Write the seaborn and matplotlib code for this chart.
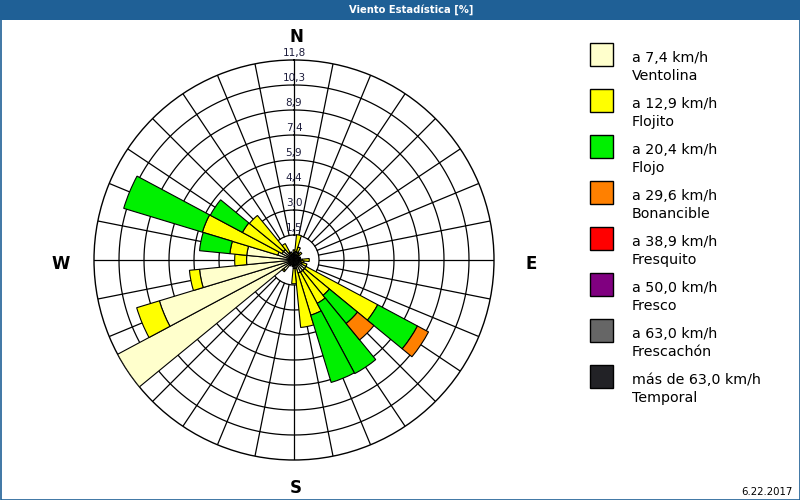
import numpy as np
import pandas as pd
import seaborn as sns
import matplotlib
matplotlib.use("Agg")
import matplotlib.pyplot as plt
from matplotlib.patches import Rectangle

# ---------------- data ----------------
directions = [0, 11.25, 22.5, 33.75, 45, 56.25, 67.5, 78.75,
              90, 101.25, 112.5, 123.75, 135, 146.25, 157.5, 168.75,
              180, 191.25, 202.5, 213.75, 225, 236.25, 247.5, 258.75,
              270, 281.25, 292.5, 303.75, 315, 326.25, 337.5, 348.75]

ventolina = [0.4, 0.5, 0.5, 0.3, 0.4, 0.3, 0.3, 0.3,
             0.5, 0.4, 0.5, 0.8, 0.8, 0.8, 0.8, 0.5,
             0.5, 0.3, 0.3, 0.4, 0.8, 11.8, 8.3, 5.6,
             2.8, 2.8, 1.0, 0.8, 0.8, 0.5, 0.3, 0.3]
flojito = [0.2, 1.0, 0.3, 0.2, 0.2, 0.0, 0.1, 0.1,
           0.4, 0.2, 0.3, 4.8, 1.9, 2.1, 2.6, 3.5,
           0.9, 0.1, 0.0, 0.0, 0.1, 0.0, 1.4, 0.6,
           0.7, 1.0, 4.65, 2.65, 2.6, 0.6, 0.2, 0.1]
flojo = [0, 0, 0, 0, 0, 0, 0, 0,
         0, 0, 0, 2.66, 2.15, 4.7, 4.15, 0,
         0, 0, 0, 0, 0, 0, 0, 0,
         0, 1.8, 4.85, 2.15, 0, 0, 0, 0]
bonancible = [0, 0, 0, 0, 0, 0, 0, 0,
              0, 0, 0, 0.74, 1.25, 0, 0, 0,
              0, 0, 0, 0, 0, 0, 0, 0,
              0, 0, 0, 0, 0, 0, 0, 0]
fresquito = [0] * 32
fresco = [0] * 32
frescachon = [0] * 32
temporal = [0] * 32

speed_labels = ["a 7,4 km/h", "a 12,9 km/h", "a 20,4 km/h", "a 29,6 km/h",
                "a 38,9 km/h", "a 50,0 km/h", "a 63,0 km/h", "más de 63,0 km/h"]
class_names = ["Ventolina", "Flojito", "Flojo", "Bonancible",
               "Fresquito", "Fresco", "Frescachón", "Temporal"]
colors = ["#FFFFCC", "#FFFF00", "#00F000", "#FF8000",
          "#FF0000", "#800080", "#666666", "#222226"]

r_max = 11.8
ring_labels = ["1,5", "3,0", "4,4", "5,9", "7,4", "8,9", "10,3", "11,8"]
compass = ["N", "E", "S", "W"]

series = [ventolina, flojito, flojo, bonancible,
          fresquito, fresco, frescachon, temporal]

df = pd.DataFrame(
    {name: vals for name, vals in zip(class_names, series)},
    index=directions,
)

# ---------------- style ----------------
sns.set_style("white")
plt.rcParams["font.family"] = ["DejaVu Sans"]

W, H = 800, 500
fig = plt.figure(figsize=(8, 5), dpi=100)
fig.patch.set_facecolor("white")

cx, cy, R = 294, 260, 200  # pixel layout of the rose
ax = fig.add_axes([(cx - R) / W, (H - cy - R) / H, 2 * R / W, 2 * R / H],
                  projection="polar")
ax.set_theta_zero_location("N")
ax.set_theta_direction(-1)
ax.set_ylim(0, r_max)
ax.grid(False)
ax.set_xticks([])
ax.set_yticks([])
ax.spines["polar"].set_color("black")
ax.spines["polar"].set_linewidth(1.0)
ax.set_facecolor("white")

n_dir = len(directions)
theta = np.deg2rad(np.array(directions, dtype=float))
width = 2 * np.pi / n_dir

# grid rings and spokes
n_rings = len(ring_labels)
ring_vals = [r_max * (k + 1) / n_rings for k in range(n_rings)]
tt = np.linspace(0, 2 * np.pi, 721)
for rv in ring_vals[:-1]:
    ax.plot(tt, np.full_like(tt, rv), color="black", lw=0.9, zorder=1)
for t in theta:
    ax.plot([t, t], [ring_vals[0], r_max], color="black", lw=0.9, zorder=1)

# stacked bars
bottom = np.zeros(n_dir)
palette = sns.color_palette(colors)
for name, col in zip(class_names, palette):
    vals = df[name].to_numpy(dtype=float)
    m = vals > 0
    if m.any():
        ax.bar(theta[m], vals[m], width=width, bottom=bottom[m], color=col,
               edgecolor="black", linewidth=0.8, align="center", zorder=3)
    bottom += vals

# ring labels along N axis
for rv, lab in zip(ring_vals, ring_labels):
    ax.annotate(lab, xy=(0, rv), xytext=(0, 4.7), textcoords="offset points",
                ha="center", va="center", fontsize=7.5, color="#1c1c3c",
                zorder=5, annotation_clip=False)

# compass labels
comp_pos = {"N": (296, 37), "E": (531, 264), "S": (296, 488), "W": (61, 264)}
for c in compass:
    x, y = comp_pos[c]
    fig.text(x / W, 1 - y / H, c, ha="center", va="center",
             fontsize=12, fontweight="bold", color="black")

# title band
fig.patches.append(Rectangle((0, 1 - 20 / H), 1, 20 / H, transform=fig.transFigure,
                             facecolor="#1F6096", edgecolor="none", zorder=0))
fig.text(411 / W, 1 - 10 / H, "Viento Estadística [%]", ha="center", va="center",
         color="white", fontsize=8, fontweight="bold", fontstretch="condensed")
fig.patches.append(Rectangle((0.5 / W, 0.5 / H), 1 - 1 / W, 1 - 1 / H,
                             transform=fig.transFigure, fill=False,
                             edgecolor="#1F6096", lw=1.2, zorder=10))

# legend
for i, (sl, cn, col) in enumerate(zip(speed_labels, class_names, palette)):
    top = 43 + 46 * i
    fig.patches.append(Rectangle((590 / W, 1 - (top + 23) / H), 23 / W, 23 / H,
                                 transform=fig.transFigure, facecolor=col,
                                 edgecolor="black", lw=1.0))
    fig.text(632 / W, 1 - (top + 19) / H, sl, ha="left", va="baseline",
             fontsize=10.3, color="black")
    fig.text(632 / W, 1 - (top + 37) / H, cn, ha="left", va="baseline",
             fontsize=10.3, color="black")

fig.text(793 / W, 1 - 495 / H, "6.22.2017", ha="right", va="baseline",
         fontsize=7.3, color="black")

fig.savefig("out.png", dpi=100)
